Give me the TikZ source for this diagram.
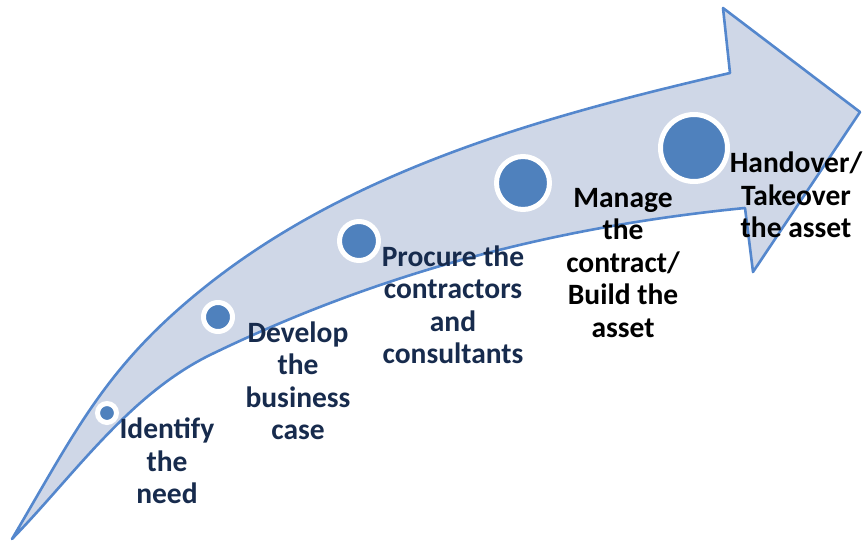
\documentclass[tikz,border=0pt]{standalone}
\usepackage{fontspec}
\setmainfont{Carlito}
\usepackage{tikz}
\definecolor{arrowfill}{RGB}{207,215,231}
\definecolor{arrowline}{RGB}{84,135,205}
\definecolor{dotblue}{RGB}{79,129,189}
\definecolor{navy}{RGB}{23,43,77}
\tikzstyle{stage}=[circle,draw=white,fill=dotblue,line width=5pt,inner sep=0mm]
\tikzstyle{task}=[align=center,font=\fontsize{29.5}{32.5}\selectfont\bfseries,inner sep=0mm]
\tikzstyle{band}=[fill=arrowfill,draw=arrowline,line width=2.6pt,line join=round]

\begin{document}
\begin{tikzpicture}[x=1pt,y=-1pt]
    \useasboundingbox (0,0) rectangle (863,541);
    \coordinate (tail) at (12,539);
    \coordinate (bend top) at (210,283);
    \coordinate (bend bottom) at (210,355);
    \coordinate (neck top) at (730,73);
    \coordinate (neck bottom) at (745,208);
    \coordinate (head top) at (723,8);
    \coordinate (head tip) at (860,112);
    \coordinate (head bottom) at (753,272);
    \draw[band] (tail) .. controls (78,427) and (107,364) .. (bend top)
        .. controls (358,167) and (549,115) .. (neck top)
        -- (head top) -- (head tip) -- (head bottom) -- (neck bottom)
        .. controls (562,226) and (385,270) .. (bend bottom)
        .. controls (129,395) and (75,474) .. (tail) -- cycle;
    \node[stage,minimum size=19pt] at (107,413) (need) {};
    \node[stage,minimum size=29pt] at (218,317) (case) {};
    \node[stage,minimum size=39pt] at (359,241) (procure) {};
    \node[stage,minimum size=53pt] at (523,183) (build) {};
    \node[stage,minimum size=67pt] at (694,148) (handover) {};
    \node[task,text=navy] at (167,461) (need text) {Identify\\the\\need};
    \node[task,text=navy] at (298,381) (case text) {Develop\\the\\business\\case};
    \node[task,text=navy] at (453,305) (procure text) {Procure the\\contractors\\and\\consultants};
    \node[task] at (623,263) (build text) {Manage\\the\\contract/\\Build the\\asset};
    \node[task] at (796,195) (handover text) {Handover/\\Takeover\\the asset};
\end{tikzpicture}
\end{document}
